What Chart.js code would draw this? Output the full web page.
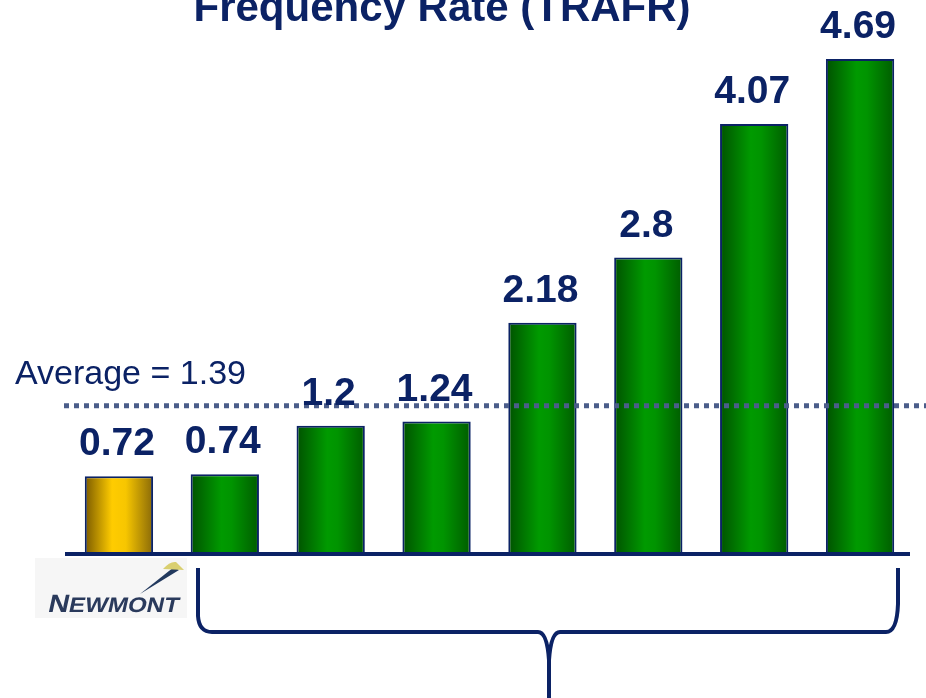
<!DOCTYPE html>
<html>
<head>
<meta charset="utf-8">
<script src="https://cdn.jsdelivr.net/npm/chart.js@4/dist/chart.umd.min.js"></script>
<style>
  html, body { margin: 0; padding: 0; background: #ffffff; }
  #wrap { width: 926px; height: 698px; }
</style>
</head>
<body>
<div id="wrap"><canvas id="trafr" width="926" height="698"></canvas></div>
<script>
// TRAFR by company, Newmont first
const companies = ["Newmont", "Peer A", "Peer B", "Peer C", "Peer D", "Peer E", "Peer F", "Peer G"];
const trafr = [0.72, 0.74, 1.2, 1.24, 2.18, 2.8, 4.07, 4.69];
const average = 1.39;
const titleText = "Frequency Rate (TRAFR)";
const averageText = "Average = " + average;

const NAVY = "#0b2265";
const BAR_PCT = 0.645;

function barGradient(ctx) {
  const chart = ctx.chart;
  const i = ctx.dataIndex;
  const gold = i === 0;
  if (!chart.chartArea || !chart.scales.x) return gold ? "#ffcc00" : "#009900";
  const xs = chart.scales.x;
  const w = (xs.width / companies.length) * BAR_PCT;
  const cx = xs.getPixelForValue(i);
  const g = chart.ctx.createLinearGradient(cx - w / 2, 0, cx + w / 2, 0);
  if (gold) {
    g.addColorStop(0, "#7a5a00");
    g.addColorStop(0.4, "#ffcc00");
    g.addColorStop(0.6, "#f7c600");
    g.addColorStop(1, "#8a6a08");
  } else {
    g.addColorStop(0, "#005200");
    g.addColorStop(0.45, "#009a00");
    g.addColorStop(0.6, "#009400");
    g.addColorStop(1, "#005c00");
  }
  return g;
}

// title, average line, value labels, baseline, logo and brace
const decorations = {
  id: "decorations",
  afterDatasetsDraw(chart) {
    const ctx = chart.ctx;
    const area = chart.chartArea;
    const ys = chart.scales.y;
    const zeroY = ys.getPixelForValue(0);

    ctx.save();

    // title, clipped by the top edge
    ctx.fillStyle = NAVY;
    ctx.font = "bold 42px 'Liberation Sans', Arial, sans-serif";
    ctx.textAlign = "center";
    ctx.textBaseline = "alphabetic";
    ctx.fillText(titleText, 442, 21);

    // average dotted line
    const avgY = ys.getPixelForValue(average);
    ctx.strokeStyle = "#4b5d8a";
    ctx.lineWidth = 5;
    ctx.setLineDash([5, 5]);
    ctx.beginPath();
    ctx.moveTo(64, avgY);
    ctx.lineTo(926, avgY);
    ctx.stroke();
    ctx.setLineDash([]);

    ctx.fillStyle = NAVY;
    ctx.font = "34px 'Liberation Sans', Arial, sans-serif";
    ctx.textAlign = "left";
    ctx.fillText(averageText, 15, avgY - 22);

    // value labels above bars
    const meta = chart.getDatasetMeta(0);
    ctx.font = "bold 39px 'Liberation Sans', Arial, sans-serif";
    ctx.textAlign = "center";
    meta.data.forEach((bar, i) => {
      ctx.fillText(String(trafr[i]), bar.x - 2, bar.y - 21);
    });

    // baseline
    ctx.strokeStyle = NAVY;
    ctx.lineWidth = 4;
    ctx.beginPath();
    ctx.moveTo(area.left - 1, zeroY + 2);
    ctx.lineTo(area.right - 3, zeroY + 2);
    ctx.stroke();

    // Newmont logo
    ctx.fillStyle = "#f6f6f6";
    ctx.fillRect(35, 558, 152, 60);
    ctx.fillStyle = "#22395e";
    ctx.beginPath();
    ctx.moveTo(140, 594);
    ctx.lineTo(174, 567);
    ctx.lineTo(179, 570);
    ctx.closePath();
    ctx.fill();
    ctx.fillStyle = "#d9cf70";
    ctx.beginPath();
    ctx.moveTo(163, 569);
    ctx.quadraticCurveTo(170, 561, 176, 562);
    ctx.lineTo(184, 570);
    ctx.closePath();
    ctx.fill();
    ctx.fillStyle = "#2a3a5c";
    ctx.textAlign = "left";
    ctx.save();
    ctx.translate(47, 612);
    ctx.transform(1.15, 0, -0.22, 1, 0, 0);
    ctx.font = "bold 25px 'Liberation Sans', Arial, sans-serif";
    ctx.fillText("N", 0, 0);
    const nx = ctx.measureText("N").width;
    ctx.font = "bold 21px 'Liberation Sans', Arial, sans-serif";
    ctx.fillText("EWMONT", nx, 0);
    ctx.restore();

    // brace under the peer group
    ctx.strokeStyle = NAVY;
    ctx.lineWidth = 4;
    ctx.lineCap = "butt";
    ctx.beginPath();
    ctx.moveTo(198, 568);
    ctx.lineTo(198, 616);
    ctx.quadraticCurveTo(199, 632, 212, 632);
    ctx.lineTo(538, 632);
    ctx.quadraticCurveTo(547, 632, 549, 660);
    ctx.lineTo(549, 698);
    ctx.moveTo(549, 660);
    ctx.quadraticCurveTo(551, 632, 560, 632);
    ctx.lineTo(886, 632);
    ctx.quadraticCurveTo(897, 632, 898, 604);
    ctx.lineTo(898, 568);
    ctx.stroke();

    ctx.restore();
  }
};

new Chart(document.getElementById("trafr"), {
  type: "bar",
  data: {
    labels: companies,
    datasets: [{
      data: trafr,
      backgroundColor: barGradient,
      borderColor: NAVY,
      borderWidth: 2,
      barPercentage: BAR_PCT,
      categoryPercentage: 1.0
    }]
  },
  options: {
    responsive: false,
    animation: false,
    layout: { padding: { top: 0, bottom: 146, left: 66, right: 13 } },
    plugins: {
      legend: { display: false },
      tooltip: { enabled: false },
      title: { display: false }
    },
    scales: {
      x: { display: false },
      y: { display: false, min: 0, max: 5.25 }
    }
  },
  plugins: [decorations]
});
</script>
</body>
</html>
